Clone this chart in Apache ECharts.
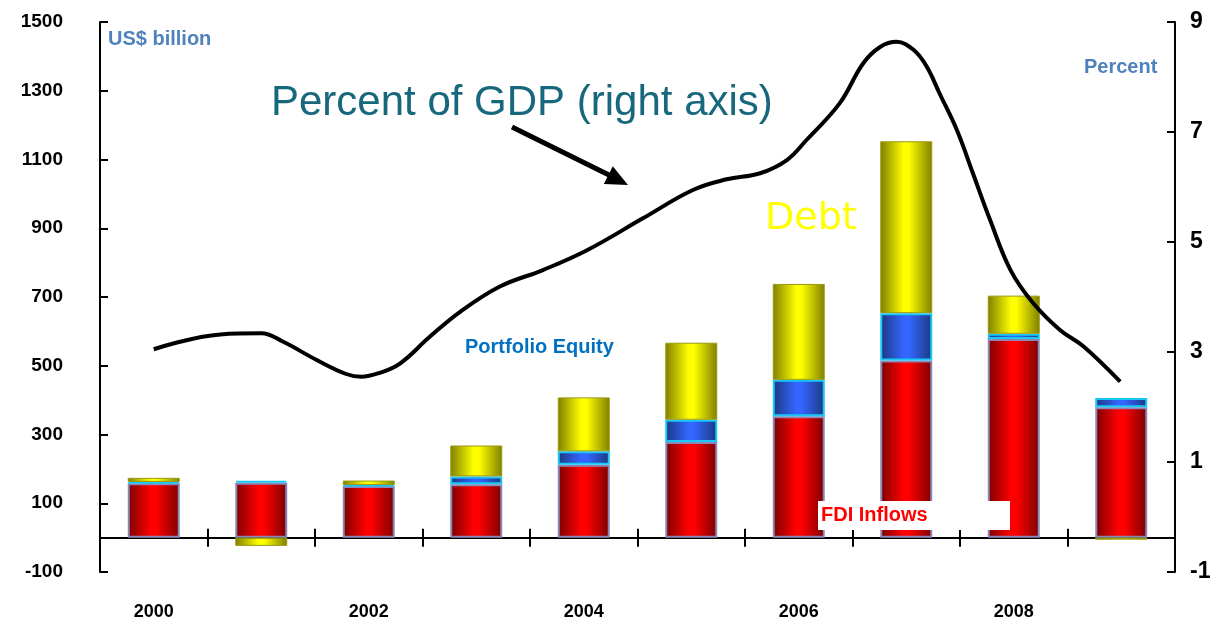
<!DOCTYPE html>
<html>
<head>
<meta charset="utf-8">
<script src="https://cdn.jsdelivr.net/npm/echarts@6/dist/echarts.min.js"></script>
<style>
  html, body { margin: 0; padding: 0; background: #fff; }
  #el { width: 1229px; height: 626px; }
</style>
</head>
<body>
<div id="el"></div>
<script>
// data
let years = ['2000', '2001', '2002', '2003', '2004', '2005', '2006', '2007', '2008', '2009'];
let fdi = [158, 160, 150, 155, 212, 278, 353, 515, 578, 379];
let portfolio = [4, 5, 3, 23, 39, 65, 106, 138, 15, 27];
let debt = [12, -24, 13, 90, 157, 224, 279, 500, 111, -6];

// percent of GDP curve, position in years from 2000 and value on right axis
let gdpPos = [0, 0.62, 1.0, 1.2, 1.52, 1.79, 1.93, 2.1, 2.29, 2.57, 2.85, 3.22, 3.62, 4.03, 4.55, 5.02, 5.33, 5.64,
  5.89, 6.07, 6.38, 6.6, 6.76, 6.91, 7.07, 7.19, 7.31, 7.47, 7.62, 7.78, 7.97, 8.18, 8.43, 8.65, 8.99];
let gdpPct = [3.05, 3.32, 3.34, 3.19, 2.85, 2.6, 2.55, 2.62, 2.79, 3.28, 3.73, 4.19, 4.49, 4.85, 5.43, 5.95, 6.14, 6.25,
  6.49, 6.85, 7.52, 8.25, 8.55, 8.64, 8.49, 8.19, 7.7, 7.04, 6.25, 5.4, 4.49, 3.89, 3.4, 3.1, 2.46];

let leftTicks = { min: -100, max: 1500, interval: 200 };
let rightTicks = { min: -1, max: 9, interval: 2 };

function cylinder(dark, light) {
  return new echarts.graphic.LinearGradient(0, 0, 1, 0, [
    { offset: 0, color: dark },
    { offset: 0.45, color: light },
    { offset: 0.55, color: light },
    { offset: 1, color: dark }
  ]);
}

let font = '"Liberation Sans", Arial, sans-serif';
let labelFont = { fontFamily: font, fontWeight: 'bold', fontSize: 19, color: '#000' };

let option = {
  animation: false,
  grid: { left: 100, right: 54, top: 22, bottom: 54 },
  xAxis: [
    {
      type: 'category',
      data: years,
      position: 'bottom',
      axisLine: { onZero: true, onZeroAxisIndex: 0, lineStyle: { color: '#000', width: 2 } },
      axisTick: { show: true, interval: 0, length: 9, lineStyle: { color: '#000', width: 2 } },
      axisLabel: { show: false }
    },
    {
      type: 'value',
      min: -0.5,
      max: 9.5,
      show: false
    },
    {
      type: 'category',
      data: years,
      position: 'bottom',
      offset: 0,
      axisLine: { onZero: true, onZeroAxisIndex: 0, lineStyle: { color: '#000', width: 2 } },
      axisTick: { show: true, interval: 0, inside: true, length: 9, lineStyle: { color: '#000', width: 2 } },
      axisLabel: { show: false }
    },
    {
      type: 'category',
      data: years,
      position: 'bottom',
      axisLine: { show: false, onZero: false },
      axisTick: { show: false },
      axisLabel: Object.assign({ interval: 1, margin: 31 }, labelFont, { fontSize: 18 })
    }
  ],
  yAxis: [
    {
      type: 'value',
      min: leftTicks.min,
      max: leftTicks.max,
      interval: leftTicks.interval,
      splitLine: { show: false },
      axisLine: { show: true, onZero: false, lineStyle: { color: '#000', width: 2 } },
      axisTick: { show: true, inside: true, length: 8, lineStyle: { color: '#000', width: 2 } },
      axisLabel: Object.assign({ margin: 37, formatter: (v) => String(v) }, labelFont)
    },
    {
      type: 'value',
      min: rightTicks.min,
      max: rightTicks.max,
      interval: rightTicks.interval,
      position: 'right',
      splitLine: { show: false },
      axisLine: { show: true, onZero: false, lineStyle: { color: '#000', width: 2 } },
      axisTick: { show: true, inside: true, length: 8, lineStyle: { color: '#000', width: 2 } },
      axisLabel: Object.assign({ margin: 15 }, labelFont, { fontSize: 23 })
    }
  ],
  series: [
    {
      name: 'FDI Inflows',
      type: 'bar',
      stack: 'flows',
      barWidth: 52,
      data: fdi,
      itemStyle: { color: cylinder('#7a0000', '#ff0000'), borderColor: '#8a86b8', borderWidth: 2 }
    },
    {
      name: 'Portfolio Equity',
      type: 'bar',
      stack: 'flows',
      data: portfolio,
      itemStyle: { color: cylinder('#1c3880', '#3366ff'), borderColor: '#19c8f5', borderWidth: 2 }
    },
    {
      name: 'Debt',
      type: 'bar',
      stack: 'flows',
      data: debt,
      itemStyle: { color: cylinder('#7f7f00', '#ffff00'), borderColor: '#9a9a10', borderWidth: 1 }
    },
    {
      name: 'Percent of GDP',
      type: 'line',
      xAxisIndex: 1,
      yAxisIndex: 1,
      smooth: 0.4,
      symbol: 'none',
      z: 5,
      data: gdpPos.map((p, i) => [p, gdpPct[i]]),
      lineStyle: { color: '#000', width: 4 }
    }
  ],
  graphic: [
    {
      type: 'text', left: 108, top: 29,
      style: { text: 'US$ billion', fill: '#4f81bd', font: 'bold 20px ' + font }
    },
    {
      type: 'text', left: 1084, top: 57,
      style: { text: 'Percent', fill: '#4f81bd', font: 'bold 20px ' + font }
    },
    {
      type: 'text', left: 271, top: 82,
      style: {
        text: 'Percent of GDP (right axis)', fill: '#17677d', font: '42px ' + font,
        shadowColor: 'rgba(0,0,0,0.4)', shadowBlur: 3, shadowOffsetX: 2, shadowOffsetY: 2
      }
    },
    {
      type: 'line', z: 10,
      shape: { x1: 512, y1: 127, x2: 609, y2: 175 },
      style: { stroke: '#000', lineWidth: 5 }
    },
    {
      type: 'polygon', z: 10,
      shape: { points: [[628, 185], [603.8, 184.1], [612.8, 166.3]] },
      style: { fill: '#000' }
    },
    {
      type: 'text', left: 765, top: 200,
      style: { text: 'Debt', fill: '#ffff00', font: '38px "DejaVu Sans", sans-serif' }
    },
    {
      type: 'text', left: 465, top: 337,
      style: { text: 'Portfolio Equity', fill: '#0070c0', font: 'bold 20px ' + font }
    },
    {
      type: 'rect', z: 10,
      shape: { x: 818, y: 501, width: 192, height: 29 },
      style: { fill: '#fff' }
    },
    {
      type: 'text', z: 11, left: 821, top: 505,
      style: { text: 'FDI Inflows', fill: '#ff0000', font: 'bold 20px ' + font }
    }
  ]
};

let myChart = echarts.init(document.querySelector('#el'));
option && myChart.setOption(option);
</script>
</body>
</html>
